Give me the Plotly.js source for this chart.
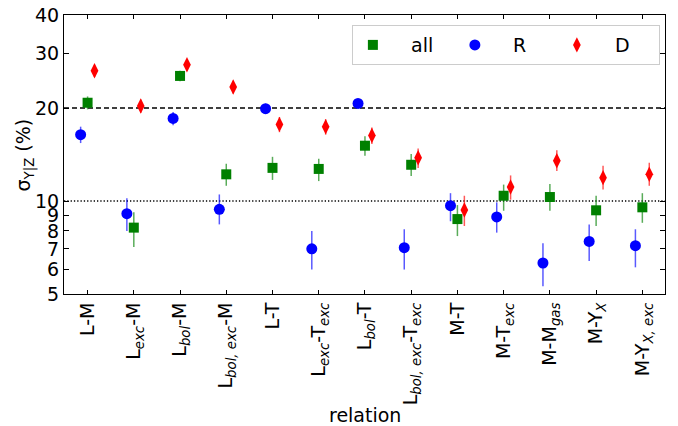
<!DOCTYPE html>
<html>
<head>
<meta charset="utf-8">
<script src="https://cdn.plot.ly/plotly-3.0.1.min.js"></script>
<style>html,body{margin:0;padding:0;background:#fff;}#chart{width:678px;height:426px;}</style>
</head>
<body>
<div id="chart"></div>
<script>
// Categories (tick labels)
const relations = [
  "L-M",
  "L<sub><i>exc</i></sub>-M",
  "L<sub><i>bol</i></sub>-M",
  "L<sub><i>bol, exc</i></sub>-M",
  "L-T",
  "L<sub><i>exc</i></sub>-T<sub><i>exc</i></sub>",
  "L<sub><i>bol</i></sub>-T",
  "L<sub><i>bol, exc</i></sub>-T<sub><i>exc</i></sub>",
  "M-T",
  "M-T<sub><i>exc</i></sub>",
  "M-M<sub><i>gas</i></sub>",
  "M-Y<sub><i>X</i></sub>",
  "M-Y<sub><i>X, exc</i></sub>"
];

// Series: all
const allVals   = [20.8, 8.2, 25.4, 12.2, 12.8, 12.7, 15.1, 13.1, 8.74, 10.4, 10.3, 9.33, 9.54];
const allPlus   = [1.0, 1.0, 1.0, 1.0, 1.1, 1.0, 1.1, 1.1, 0.96, 0.9, 1.05, 1.07, 1.06];
const allMinus  = [1.0, 1.1, 1.0, 1.0, 1.1, 1.1, 1.1, 1.05, 1.04, 1.1, 1.0, 1.03, 1.04];

// Series: R
const rVals     = [16.4, 9.1, 18.5, 9.4, 19.9, 7.0, 20.7, 7.06, 9.66, 8.88, 6.3, 7.4, 7.17];
const rPlus     = [1.0, 1.1, 0.9, 1.1, 0.75, 1.0, 0.7, 1.04, 0.94, 1.02, 1.0, 1.0, 0.93];
const rMinus    = [1.0, 1.1, 0.9, 1.0, 0.75, 1.0, 0.7, 1.06, 1.06, 0.98, 1.0, 1.0, 1.07];

// Series: D
const dVals     = [26.4, 20.3, 27.6, 23.4, 17.7, 17.4, 16.3, 13.8, 9.35, 11.1, 13.5, 11.9, 12.2];
const dPlus     = [1.2, 1.0, 1.2, 1.1, 1.0, 1.0, 1.0, 1.0, 1.05, 1.0, 1.1, 1.1, 1.1];
const dMinus    = [1.2, 1.0, 1.2, 1.1, 1.0, 1.0, 1.0, 1.0, 1.05, 1.0, 1.0, 1.0, 1.0];

const seriesNames = ["all", "R", "D"];
const refLines = [20, 10];
const yTicks = [5, 6, 7, 8, 9, 10, 20, 30, 40];
const xTitle = "relation";
const yTitle = "σ<sub>Y|Z</sub> (%)";

const idx = relations.map((_, i) => i);
const shift = (o) => idx.map(i => i + o);

const font = {family: "DejaVu Sans, sans-serif", size: 19, color: "#000"};
const pad = "\u00a0\u00a0\u00a0";

function trace(name, x, y, plus, minus, color, ecolor, symbol, size) {
  return {
    type: "scatter", mode: "markers", name: pad + name,
    x: x, y: y,
    marker: {color: color, symbol: symbol, size: size, line: {width: 0}},
    error_y: {type: "data", symmetric: false, array: plus, arrayminus: minus,
              color: ecolor, thickness: 1.5, width: 0}
  };
}

const data = [
  trace(seriesNames[0], shift(0), allVals, allPlus, allMinus, "#008000", "rgba(0,128,0,0.65)", "square", 10),
  trace(seriesNames[1], shift(-0.15), rVals, rPlus, rMinus, "#0000ff", "rgba(0,0,255,0.65)", "circle", 11),
  trace(seriesNames[2], shift(0.15), dVals, dPlus, dMinus, "#ff0000", "rgba(255,0,0,0.65)", "diamond-tall", 11)
];

const shapes = [
  {type: "line", xref: "paper", x0: 0, x1: 1, yref: "y", y0: refLines[0], y1: refLines[0],
   line: {color: "#000", width: 1.3, dash: "5px,3px"}, layer: "below"},
  {type: "line", xref: "paper", x0: 0, x1: 1, yref: "y", y0: refLines[1], y1: refLines[1],
   line: {color: "#000", width: 1.3, dash: "1.3px,2px"}, layer: "below"}
];

const layout = {
  width: 678, height: 426,
  margin: {l: 64, r: 13, t: 15, b: 132},
  paper_bgcolor: "#fff", plot_bgcolor: "#fff",
  font: font,
  showlegend: true,
  legend: {
    orientation: "h", x: 0.479, y: 0.964, xanchor: "left", yanchor: "top",
    bgcolor: "rgba(255,255,255,0.8)", bordercolor: "#cccccc", borderwidth: 1,
    font: font, entrywidth: 57, entrywidthmode: "pixels", traceorder: "normal"
  },
  xaxis: {
    range: [-0.51, 12.49], tickmode: "array", tickvals: idx, ticktext: relations,
    tickangle: -90, ticks: "inside", ticklen: 4, tickcolor: "#000",
    showline: true, linecolor: "#000", linewidth: 1, mirror: "allticks",
    showgrid: false, zeroline: false, tickfont: font
  },
  yaxis: {
    type: "log", range: [Math.log10(5), Math.log10(40)],
    tickmode: "array", tickvals: yTicks, ticktext: yTicks.map(String),
    ticks: "inside", ticklen: 5, tickcolor: "#000",
    showline: true, linecolor: "#000", linewidth: 1, mirror: "allticks",
    showgrid: false, zeroline: false, tickfont: font
  },
  annotations: [
    {text: xTitle, xref: "paper", yref: "paper", x: 0.5, y: -0.434,
     xanchor: "center", yanchor: "middle", showarrow: false, font: font},
    {text: yTitle, xref: "paper", yref: "paper", x: -0.065, y: 0.5,
     xanchor: "center", yanchor: "middle", textangle: -90, showarrow: false, font: font}
  ],
  shapes: shapes
};

Plotly.newPlot("chart", data, layout, {displayModeBar: false, staticPlot: true});
</script>
</body>
</html>
